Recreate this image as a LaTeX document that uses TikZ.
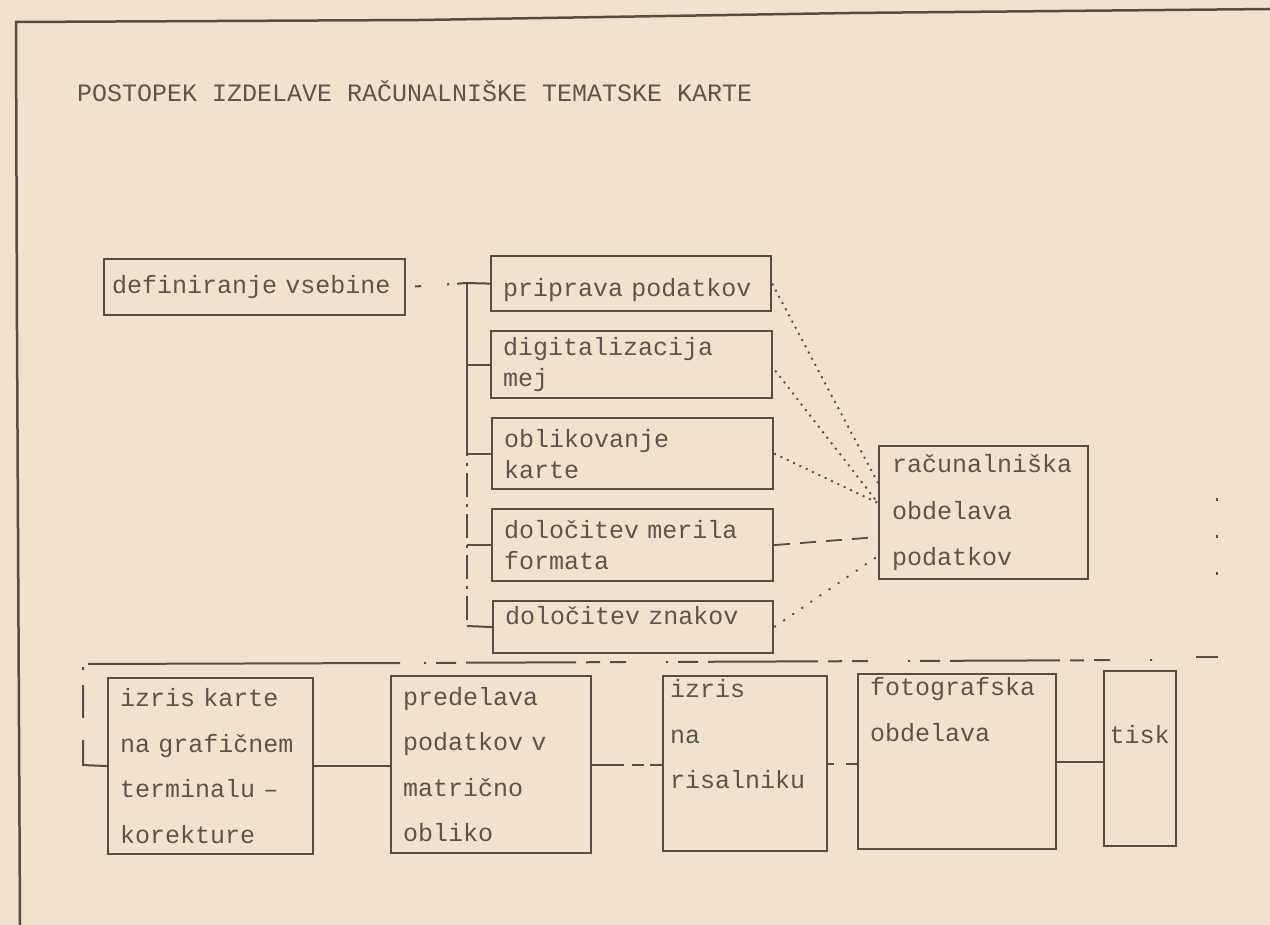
\documentclass[tikz,border=0pt]{standalone}
\usepackage{fontspec}
\usetikzlibrary{calc}
\newfontfamily\dmfont{Liberation Mono}
\definecolor{bg}{RGB}{240,227,205}
\definecolor{lc}{RGB}{86,78,70}
\definecolor{tc}{RGB}{92,85,78}
\tikzset{
  box/.style={draw=lc, line width=2.2pt, rectangle, anchor=north west,
    inner xsep=12pt, inner ysep=3pt, align=left, text=tc,
    font=\dmfont\fontsize{25}{31}\selectfont},
  tall/.style={font=\dmfont\fontsize{25}{45.5}\selectfont},
  conn/.style={draw=lc, line width=2pt},
  dotl/.style={draw=lc, line width=1.8pt, dash pattern=on 2pt off 5pt},
}
\begin{document}
\begin{tikzpicture}[x=1pt,y=-1pt]
\fill[bg] (0,0) rectangle (1270,925);
\useasboundingbox (0,0) rectangle (1270,925);
% frame
\draw[conn, line width=2.5pt] (20,925) -- (17,330) -- (16,22) -- (420,20) -- (850,13) -- (1270,9);
% title
\node[anchor=west, text=tc, font=\dmfont\fontsize{25}{30}\selectfont, inner sep=0pt] (title) at (77,91) {POSTOPEK IZDELAVE RAČUNALNIŠKE TEMATSKE KARTE};
% top boxes
\node[box, inner xsep=8pt, minimum width=301pt, minimum height=56pt, text width=285pt] (def) at (103,258) {definiranje vsebine};
\node[box, text height=28pt, text depth=2pt, minimum width=280pt, minimum height=55pt, text width=256pt] (pri) at (490,255) {priprava podatkov};
\node[box, minimum width=281pt, minimum height=67pt, text width=257pt] (dig) at (490,330) {digitalizacija\\mej};
\node[box, minimum width=281pt, minimum height=71pt, text width=257pt] (obl) at (491,417) {oblikovanje\\karte};
\node[box, minimum width=281pt, minimum height=72pt, text width=257pt] (mer) at (491,508) {določitev merila\\formata};
\node[box, text height=14pt, text depth=20pt, minimum width=280pt, minimum height=52pt, text width=256pt] (zna) at (492,600) {določitev znakov};
\node[box, font=\dmfont\fontsize{25}{46.5}\selectfont, inner xsep=13pt, minimum width=209pt, minimum height=133pt, text width=183pt] (rac) at (878,445) {računalniška\\obdelava\\podatkov};
% bottom boxes
\node[box, tall, minimum width=205pt, minimum height=176pt, text width=181pt] (b1) at (107,677) {izris karte\\na grafičnem\\terminalu –\\korekture};
\node[box, tall, minimum width=200pt, minimum height=177pt, text width=176pt] (b2) at (390,675) {predelava\\podatkov v\\matrično\\obliko};
\node[box, tall, inner xsep=7pt, minimum width=164pt, minimum height=175pt, text width=150pt] (b3) at (662,675) {izris\\na\\risalniku\\\strut};
\node[box, tall, minimum width=198pt, minimum height=175pt, text width=174pt] (b4) at (857,673) {fotografska\\obdelava\\\strut\\\strut};
\node[box, text height=18pt, text depth=49pt, inner xsep=5.5pt, minimum width=72pt, minimum height=175pt, text width=61pt] (b5) at (1103,670) {tisk};
% tree from def
\coordinate (tTop) at (467,283);
\coordinate (tMid) at (467,432);
\coordinate (tBot) at (467,626);
\draw[conn, dash pattern=on 0pt off 9pt on 6pt off 26pt on 2pt off 8pt on 20pt off 100pt] (def.east) -- (tTop);
\draw[conn] (tTop) -- (pri.west);
\draw[conn] (tTop) -- (tMid);
\draw[conn, dash pattern=on 24pt off 7pt on 3pt off 7pt] (tMid) -- (tBot);
\draw[conn] (tTop |- dig.west) -- (dig.west);
\draw[conn] (tTop |- obl.west) -- (obl.west);
\draw[conn] (tTop |- mer.west) -- (mer.west);
\draw[conn] (tBot) -- (zna.west);
% links to rac
\coordinate (r1) at (878,483);
\coordinate (r2) at (878,503);
\coordinate (r3) at (878,537);
\coordinate (r4) at (878,556);
\draw[dotl] (pri.east) -- (r1);
\draw[dotl] ($(dig.east)+(2,6)$) -- (r2);
\draw[dotl] (obl.east) -- (r2);
\draw[conn, line width=1.8pt, dash pattern=on 16pt off 10pt] (mer.east) -- (r3);
\draw[draw=lc, line width=1.8pt, dash pattern=on 2pt off 9pt] (zna.east) -- (r4);
% right dots
\coordinate (d1) at (1217,498);
\coordinate (d2) at (1217,575);
\draw[draw=lc, line width=2.5pt, dash pattern=on 2.5pt off 34.5pt] (d1) -- (d2);
% loop line
\coordinate (Lr) at (1218,657);
\coordinate (Lr2) at (1196,657);
\coordinate (Ld) at (1152,660);
\coordinate (Lc) at (400,663);
\coordinate (Ll) at (88,664);
\coordinate (Lv) at (83,667);
\coordinate (Lb) at (83,765);
\draw[conn] (Lr) -- (Lr2);
\draw[conn, dash pattern=on 2pt off 40pt on 16pt off 10pt on 14pt off 10pt on 110pt off 10pt on 20pt off 10pt] (Ld) -- (Lc);
\draw[conn] (Lc) -- (Ll);
\draw[conn, dash pattern=on 3pt off 15pt on 33pt off 22pt on 200pt] (Lv) -- (Lb) -- (b1.west);
% bottom chain
\draw[conn] (b1.east) -- (b1.east -| b2.west);
\draw[conn, dash pattern=on 32pt off 8pt on 12pt off 6pt on 20pt] (b2.east) -- (b2.east -| b3.west);
\draw[conn, dash pattern=on 6pt off 12pt on 20pt] (b3.east) -- (b3.east -| b4.west);
\draw[conn] (b4.east) -- (b4.east -| b5.west);
\end{tikzpicture}
\end{document}
